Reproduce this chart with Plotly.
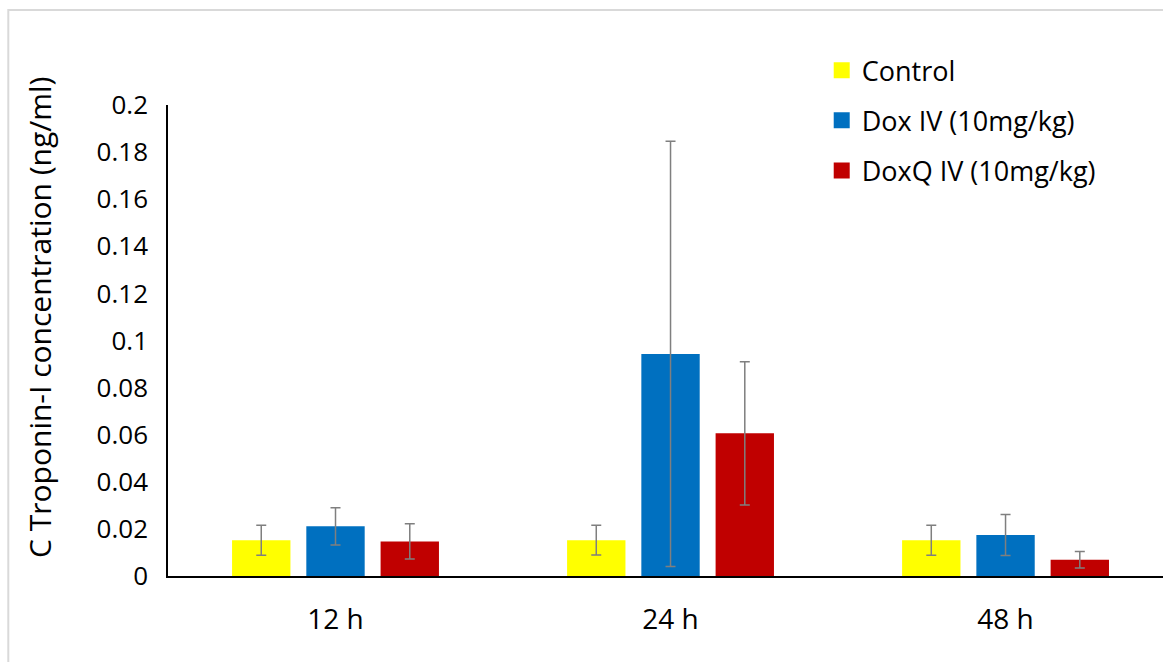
import plotly.graph_objects as go

# Cardiac troponin-I by time point and treatment group
time_points = ["12 h", "24 h", "48 h"]
series_names = ["Control", "Dox IV (10mg/kg)", "DoxQ IV (10mg/kg)"]
control_mean = [0.0152, 0.0152, 0.0152]
control_err = [0.0064, 0.0063, 0.0064]
dox_mean = [0.0211, 0.0943, 0.0174]
dox_err = [0.0079, 0.0903, 0.0087]
doxq_mean = [0.0147, 0.0606, 0.0069]
doxq_err = [0.0075, 0.0304, 0.0035]
y_tick_values = [0, 0.02, 0.04, 0.06, 0.08, 0.1, 0.12, 0.14, 0.16, 0.18, 0.2]
y_tick_labels = ["0", "0.02", "0.04", "0.06", "0.08", "0.1", "0.12", "0.14", "0.16", "0.18", "0.2"]
y_title = "C Troponin-I concentration (ng/ml)"

colors = ["#FFFF00", "#0070C0", "#C00000"]
means = [control_mean, dox_mean, doxq_mean]
errs = [control_err, dox_err, doxq_err]

FONT = "Open Sans"
fig = go.Figure()

for name, m, e, c in zip(series_names, means, errs, colors):
    fig.add_trace(go.Bar(
        x=time_points, y=m, name=name, showlegend=False,
        marker=dict(color=c, line=dict(width=0)),
        error_y=dict(type="data", array=e, visible=True,
                     color="#7f7f7f", thickness=1.5, width=5),
    ))

# legend entries as square swatches
for i, (name, c) in enumerate(zip(series_names, colors)):
    fig.add_trace(go.Scatter(
        x=[None], y=[None], mode="markers", name=name,
        legendgroup=f"g{i}",
        marker=dict(symbol="square", size=16, color=c),
    ))

fig.update_layout(
    width=1163, height=662,
    margin=dict(l=168, r=0, t=105, b=86),
    paper_bgcolor="white", plot_bgcolor="white",
    barmode="group", bargap=0.335, bargroupgap=0.214,
    font=dict(family=FONT, size=22, color="#000000"),
    showlegend=True,
    legend=dict(x=0.657, y=1.125, xanchor="left", yanchor="top",
                font=dict(family=FONT, size=27, color="#000000"),
                tracegroupgap=12, itemwidth=30, bgcolor="rgba(0,0,0,0)"),
    xaxis=dict(
        range=[-0.5, 2.47], showline=True, linecolor="#000000", linewidth=1.5,
        ticks="", showgrid=False, zeroline=False,
        tickfont=dict(family=FONT, size=28), ticklabelstandoff=18,
    ),
    yaxis=dict(
        range=[0, 0.2], tickvals=y_tick_values, ticktext=y_tick_labels,
        showline=True, linecolor="#000000", linewidth=1.5,
        ticks="", showgrid=False, zeroline=False,
        tickfont=dict(family=FONT, size=26), ticklabelstandoff=13,
    ),
    annotations=[
        dict(text=y_title, xref="paper", yref="paper", x=-0.1286, y=0.548,
             xanchor="center", yanchor="middle", textangle=-90,
             showarrow=False, font=dict(family=FONT, size=30, color="#000000")),
    ],
    shapes=[
        dict(type="rect", xref="paper", yref="paper",
             x0=-0.1605, x1=1.2, y0=-0.4, y1=1.2017,
             line=dict(color="#d9d9d9", width=2), fillcolor="rgba(0,0,0,0)",
             layer="below"),
    ],
)

fig.write_html("out.html")
